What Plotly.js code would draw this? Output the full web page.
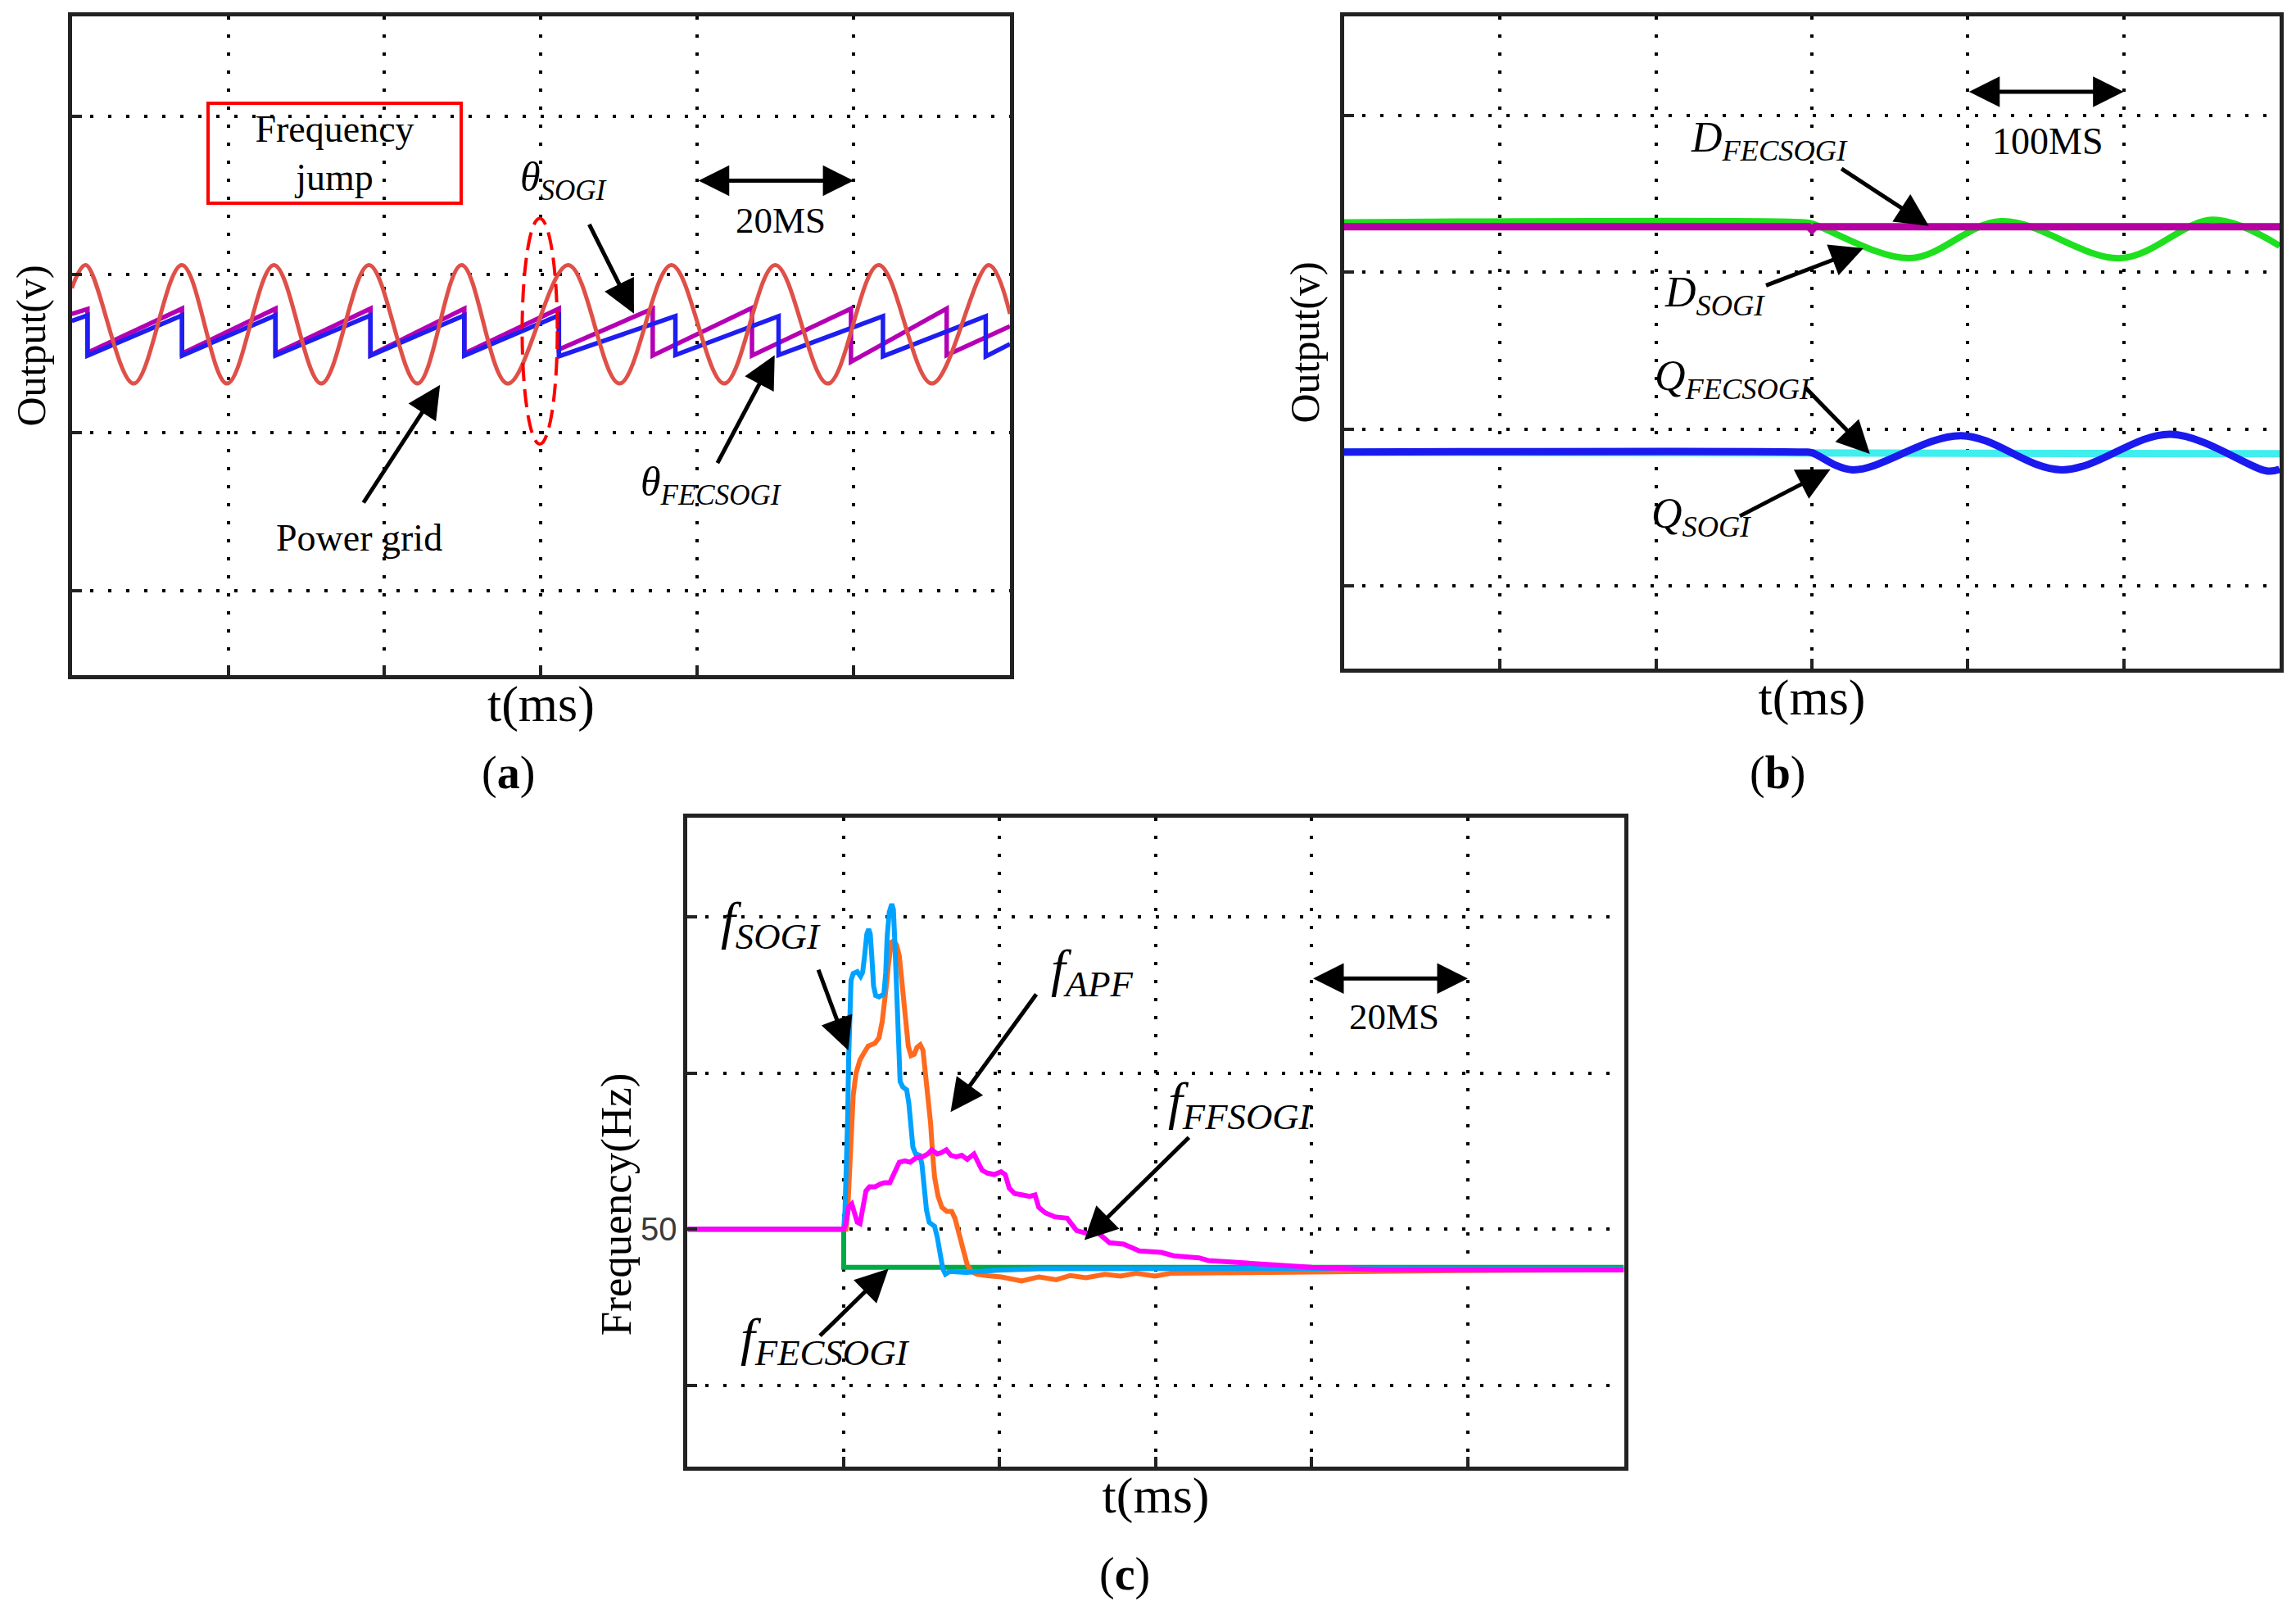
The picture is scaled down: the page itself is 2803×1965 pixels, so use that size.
<!DOCTYPE html>
<html>
<head>
<meta charset="utf-8">
<script src="https://cdn.plot.ly/plotly-3.0.1.min.js"></script>
<style>
html,body{margin:0;padding:0;background:#ffffff;}
#chart{width:2803px;height:1965px;}
</style>
</head>
<body>
<div id="chart"></div>
<script>
// ---------- Panel (a): phase outputs around a frequency jump (t in ms) ----------
const gridT = [0, 1.78, 7.9, 14.07, 19.85, 25.85, 31.9, 38.0, 44.2, 49.85, 55.75, 63.5, 70.05, 76.7, 83.45, 89.97, 96.7, 103.2, 110.0, 117.3, 120];
const gridV = [1.913, 2.06, 1.31, 2.06, 1.31, 2.06, 1.31, 2.06, 1.31, 2.06, 1.31, 2.06, 1.31, 2.06, 1.31, 2.06, 1.31, 2.06, 1.31, 2.06, 1.75];

const thetaSogiT = [0, 2.0, 2.0, 14.1, 14.1, 26.05, 26.05, 38.2, 38.2, 50.2, 50.2, 62.3, 62.3, 74.3, 74.3, 87.0, 87.0, 99.66, 99.66, 111.9, 111.9, 120];
const thetaSogiV = [1.75, 1.781, 1.505, 1.784, 1.50, 1.784, 1.50, 1.784, 1.49, 1.784, 1.50, 1.784, 1.525, 1.784, 1.487, 1.788, 1.487, 1.784, 1.447, 1.784, 1.49, 1.672];

const thetaFecT = [0, 2.0, 2.0, 14.1, 14.1, 26.05, 26.05, 38.2, 38.2, 50.2, 50.2, 62.3, 62.3, 77.2, 77.2, 90.4, 90.4, 103.75, 103.75, 116.9, 116.9, 120];
const thetaFecV = [1.706, 1.741, 1.487, 1.741, 1.487, 1.741, 1.487, 1.741, 1.487, 1.741, 1.487, 1.741, 1.482, 1.736, 1.49, 1.736, 1.49, 1.736, 1.482, 1.736, 1.482, 1.56];

// ---------- Panel (b): D / Q components (t in ms) ----------
const dFecT = [0, 298, 300, 302, 600];
const dFecV = [2.29, 2.29, 2.27, 2.29, 2.29];
const dSogiT = [0, 295, 300, 363, 421.4, 498.2, 557, 600];
const dSogiV = [2.318, 2.318, 2.31, 2.09, 2.325, 2.09, 2.334, 2.168];
const qFecT = [0, 300, 310, 600];
const qFecV = [0.854, 0.854, 0.843, 0.843];
const qSogiT = [0, 295, 300, 326, 395.7, 460.3, 530.2, 592.2, 600];
const qSogiV = [0.854, 0.854, 0.85, 0.741, 0.959, 0.741, 0.968, 0.733, 0.745];

// ---------- Panel (c): estimated frequency (t in ms, f in Hz) ----------
const fFecT = [0, 20, 20, 120];
const fFecV = [50, 50, 47.55, 47.55];

const fApfT = [0, 20.3, 20.52, 20.77, 20.97, 21.22, 21.57, 22.09, 22.61, 23.13, 24.0, 24.52, 24.94, 25.22, 25.5, 25.74, 25.91, 26.12, 26.43, 26.78, 27.13, 27.37, 27.65, 28.0, 28.28, 28.63, 29.04, 29.39, 29.81, 30.16, 30.43, 30.78, 31.13, 31.41, 31.65, 32.1, 32.59, 33.22, 33.84, 34.26, 34.78, 35.3, 35.83, 36.35, 37.04, 38.43, 40.2, 42.81, 45.03, 47.24, 49.05, 51.06, 53.47, 55.48, 57.49, 59.9, 61.91, 67.94, 75.98, 84.02, 98.8, 120];
const fApfV = [50, 50, 51.23, 53.85, 56.3, 58.58, 59.98, 60.86, 61.3, 61.73, 61.91, 62.26, 63.31, 64.36, 65.76, 66.99, 67.86, 68.39, 68.48, 68.21, 67.51, 66.11, 64.54, 62.96, 61.73, 61.12, 61.21, 61.65, 61.82, 61.47, 60.33, 58.76, 56.83, 54.73, 53.33, 52.1, 51.4, 51.14, 51.14, 50.7, 49.65, 48.6, 47.72, 47.29, 47.11, 47.02, 46.94, 46.68, 46.94, 46.76, 47.03, 46.89, 47.11, 46.99, 47.17, 46.99, 47.17, 47.2, 47.25, 47.29, 47.34, 47.4];

const fSogiT = [0, 20, 20.17, 20.35, 20.52, 20.63, 20.77, 20.94, 21.22, 21.74, 22.16, 22.43, 22.68, 22.96, 23.2, 23.41, 23.62, 23.83, 24.1, 24.52, 25.15, 25.39, 25.57, 25.84, 26.16, 26.37, 26.54, 26.78, 27.03, 27.23, 27.58, 28.07, 28.35, 28.63, 28.87, 29.22, 29.74, 30.02, 30.26, 30.61, 30.96, 31.65, 32.0, 32.35, 32.7, 33.04, 33.57, 35.65, 39.83, 45.04, 60, 80, 120];
const fSogiV = [50, 50, 51.23, 53.85, 57.36, 60.86, 64.36, 65.94, 66.38, 66.5, 66.2, 66.46, 67.51, 68.91, 69.23, 68.91, 67.34, 65.59, 64.97, 64.89, 65.06, 66.46, 68.74, 70.32, 70.84, 70.49, 68.56, 65.24, 62.26, 59.46, 59.11, 58.93, 58.06, 56.3, 55.25, 54.82, 54.73, 54.2, 52.98, 51.23, 50.44, 50.18, 49.47, 48.25, 47.46, 47.11, 47.29, 47.23, 47.37, 47.46, 47.48, 47.48, 47.45];

const fFfT = [0, 20, 20.28, 20.63, 21.04, 21.39, 21.74, 22.09, 22.43, 22.85, 23.3, 24.0, 24.7, 25.22, 25.91, 26.43, 27.13, 27.83, 28.52, 29.22, 30.09, 30.78, 31.3, 32.0, 32.52, 33.15, 33.74, 34.43, 35.13, 35.83, 36.7, 37.22, 37.74, 38.43, 39.3, 40.17, 40.7, 41.22, 41.91, 42.96, 43.83, 44.52, 45.0, 45.83, 47.04, 48.64, 49.85, 51.06, 52.66, 54.07, 55.88, 57.89, 60.7, 62.31, 65.53, 66.73, 69.95, 73.97, 80.0, 88.04, 98.8, 120];
const fFfV = [50, 50, 50.35, 51.4, 51.61, 51.05, 50.44, 50.35, 51.4, 52.45, 52.71, 52.71, 52.89, 52.98, 52.98, 53.5, 54.29, 54.38, 54.29, 54.55, 54.64, 54.82, 55.08, 54.82, 54.9, 55.08, 54.73, 54.64, 54.73, 54.47, 54.82, 54.29, 53.77, 53.59, 53.5, 53.68, 53.5, 52.63, 52.28, 52.19, 52.1, 52.19, 51.4, 51.05, 50.79, 50.7, 49.91, 49.74, 49.74, 49.13, 49.04, 48.6, 48.51, 48.29, 48.16, 47.99, 47.9, 47.73, 47.55, 47.41, 47.38, 47.38];

// y tick label of panel (c); other grid rows are unlabeled
const fTickVals = [50];
const fTickText = ['50'];

// ---------- styling ----------
const SERIF = 'Liberation Serif, Times New Roman, serif';
const axisBase = {
  showline: true, mirror: true, linecolor: '#222222', linewidth: 5,
  ticks: 'inside', ticklen: 12, tickwidth: 4, tickcolor: '#222222',
  showgrid: true, gridcolor: '#000000', gridwidth: 4, griddash: '4px,18px',
  zeroline: false, showticklabels: false, fixedrange: true
};
function ax(extra) { return Object.assign({}, axisBase, extra); }

const traces = [
  // (a)
  {x: thetaSogiT, y: thetaSogiV, xaxis: 'x', yaxis: 'y', mode: 'lines', name: 'θSOGI',
   line: {color: '#B400B4', width: 5.5}},
  {x: thetaFecT, y: thetaFecV, xaxis: 'x', yaxis: 'y', mode: 'lines', name: 'θFECSOGI',
   line: {color: '#1E1EF0', width: 5.5}},
  {x: gridT, y: gridV, xaxis: 'x', yaxis: 'y', mode: 'lines', name: 'Power grid',
   line: {color: '#DE5048', width: 5, shape: 'spline', smoothing: 1}},
  // (b)
  {x: qFecT, y: qFecV, xaxis: 'x2', yaxis: 'y2', mode: 'lines', name: 'QFECSOGI',
   line: {color: '#40EEEE', width: 9}},
  {x: qSogiT, y: qSogiV, xaxis: 'x2', yaxis: 'y2', mode: 'lines', name: 'QSOGI',
   line: {color: '#1A1AEE', width: 9, shape: 'spline', smoothing: 1}},
  {x: dSogiT, y: dSogiV, xaxis: 'x2', yaxis: 'y2', mode: 'lines', name: 'DSOGI',
   line: {color: '#1EE01E', width: 8, shape: 'spline', smoothing: 1}},
  {x: dFecT, y: dFecV, xaxis: 'x2', yaxis: 'y2', mode: 'lines', name: 'DFECSOGI',
   line: {color: '#B400A0', width: 9}},
  // (c)
  {x: fFecT, y: fFecV, xaxis: 'x3', yaxis: 'y3', mode: 'lines', name: 'fFECSOGI',
   line: {color: '#00AA44', width: 6}},
  {x: fApfT, y: fApfV, xaxis: 'x3', yaxis: 'y3', mode: 'lines', name: 'fAPF',
   line: {color: '#FF6A1E', width: 6}},
  {x: fSogiT, y: fSogiV, xaxis: 'x3', yaxis: 'y3', mode: 'lines', name: 'fSOGI',
   line: {color: '#00A2FF', width: 6}},
  {x: fFfT, y: fFfV, xaxis: 'x3', yaxis: 'y3', mode: 'lines', name: 'fFFSOGI',
   line: {color: '#FF00FF', width: 6}}
];

function label(xr, yr, x, y, text, size, anchor) {
  return {xref: xr, yref: yr, x: x, y: y, text: text, showarrow: false,
          xanchor: anchor || 'left', yanchor: 'middle',
          font: {family: SERIF, size: size, color: '#000000'}};
}
function arrow(xr, yr, x, y, axv, ayv) {
  return {xref: xr, yref: yr, axref: xr, ayref: yr, x: x, y: y, ax: axv, ay: ayv,
          text: '', showarrow: true, arrowhead: 2, arrowsize: 1.6, arrowwidth: 5,
          arrowcolor: '#000000', standoff: 0};
}
function dblArrow(xr, yr, x0, x1, y) {
  return {xref: xr, yref: yr, axref: xr, ayref: yr, x: x1, y: y, ax: x0, ay: y,
          text: '', showarrow: true, arrowhead: 2, startarrowhead: 2,
          arrowside: 'end+start', arrowsize: 1.5, startarrowsize: 1.5, arrowwidth: 5,
          arrowcolor: '#000000', standoff: 0, startstandoff: 0};
}

const annotations = [
  // (a)
  {xref: 'x', yref: 'y', x: 33.6, y: 2.767, text: 'Frequency<br>jump', showarrow: false,
   font: {family: SERIF, size: 46, color: '#000000'}, bordercolor: '#FF0000', borderwidth: 4,
   borderpad: 0, width: 305, height: 118, align: 'center', valign: 'middle',
   xanchor: 'center', yanchor: 'middle'},
  label('x', 'y', 57.1, 2.596, '<i>θ</i><sub><i>SOGI</i></sub>', 50),
  arrow('x', 'y', 71.9, 1.753, 66.1, 2.324),
  dblArrow('x', 'y', 80, 100, 2.593),
  label('x', 'y', 90.7, 2.344, '20MS', 45, 'center'),
  label('x', 'y', 36.75, 0.332, 'Power grid', 46, 'center'),
  arrow('x', 'y', 47.1, 1.301, 37.2, 0.549),
  label('x', 'y', 72.5, 0.668, '<i>θ</i><sub><i>FECSOGI</i></sub>', 50),
  arrow('x', 'y', 89.9, 1.49, 82.5, 0.80),
  // (b)
  label('x2', 'y2', 221.2, 2.84, '<i>D</i><sub><i>FECSOGI</i></sub>', 52),
  arrow('x2', 'y2', 375, 2.296, 318.2, 2.665),
  label('x2', 'y2', 204.4, 1.853, '<i>D</i><sub><i>SOGI</i></sub>', 52),
  arrow('x2', 'y2', 333, 2.153, 269.8, 1.913),
  label('x2', 'y2', 198.1, 1.32, '<i>Q</i><sub><i>FECSOGI</i></sub>', 52),
  arrow('x2', 'y2', 337.2, 0.842, 295, 1.273),
  label('x2', 'y2', 196, 0.443, '<i>Q</i><sub><i>SOGI</i></sub>', 52),
  arrow('x2', 'y2', 311.9, 0.745, 253, 0.442),
  dblArrow('x2', 'y2', 400, 500, 3.15),
  label('x2', 'y2', 450.9, 2.834, '100MS', 46, 'center'),
  // (c)
  label('x3', 'y3', 4.0, 69.55, '<i>f</i><sub><i>SOGI</i></sub>', 64),
  arrow('x3', 'y3', 20.58, 61.46, 16.7, 66.7),
  label('x3', 'y3', 46.4, 66.5, '<i>f</i><sub><i>APF</i></sub>', 64),
  arrow('x3', 'y3', 33.7, 57.5, 44.8, 65.13),
  label('x3', 'y3', 61.4, 58.0, '<i>f</i><sub><i>FFSOGI</i></sub>', 64),
  arrow('x3', 'y3', 50.85, 49.3, 64.4, 55.95),
  label('x3', 'y3', 6.6, 42.86, '<i>f</i><sub><i>FECSOGI</i></sub>', 64),
  arrow('x3', 'y3', 25.74, 47.46, 16.8, 43.09),
  dblArrow('x3', 'y3', 80, 100, 66.06),
  label('x3', 'y3', 90.5, 63.6, '20MS', 45, 'center'),
  {xref: 'paper', yref: 'paper', x: 0.2684, y: 0.2519, text: 'Frequency(Hz)', textangle: -90,
   showarrow: false, xanchor: 'center', yanchor: 'middle',
   font: {family: SERIF, size: 53, color: '#000000'}},
  // panel captions
  {xref: 'paper', yref: 'paper', x: 0.2215, y: 0.5196, text: '(<b>a</b>)', showarrow: false,
   xanchor: 'center', yanchor: 'middle', font: {family: SERIF, size: 56, color: '#000000'}},
  {xref: 'paper', yref: 'paper', x: 0.7742, y: 0.5196, text: '(<b>b</b>)', showarrow: false,
   xanchor: 'center', yanchor: 'middle', font: {family: SERIF, size: 56, color: '#000000'}},
  {xref: 'paper', yref: 'paper', x: 0.4898, y: 0.0219, text: '(<b>c</b>)', showarrow: false,
   xanchor: 'center', yanchor: 'middle', font: {family: SERIF, size: 56, color: '#000000'}}
];

const shapes = [
  {type: 'circle', xref: 'x', yref: 'y', x0: 57.6, x1: 62.1, y0: 0.927, y1: 2.355,
   line: {color: '#FF0000', width: 4, dash: '22px,10px'}}
];

const titleFontX = {family: SERIF, size: 62, color: '#000000'};
const titleFontY = {family: SERIF, size: 50, color: '#000000'};
const minorGrid = {dtick: 10, tick0: 0, showgrid: true, gridcolor: '#000000', gridwidth: 4,
                   griddash: '4px,18px', ticks: 'inside', ticklen: 12, tickwidth: 4, tickcolor: '#222222'};

const layout = {
  width: 2803, height: 1965,
  margin: {l: 0, r: 0, t: 0, b: 0},
  paper_bgcolor: '#ffffff', plot_bgcolor: '#ffffff',
  showlegend: false,
  xaxis: ax({domain: [0.03129, 0.43989], range: [0, 120], tick0: 0, dtick: 20, anchor: 'y',
             title: {text: 't(ms)', font: titleFontX, standoff: 10}}),
  yaxis: ax({domain: [0.58066, 0.98982], range: [-0.534, 3.632], tick0: 0, dtick: 1, anchor: 'x',
             title: {text: 'Output(v)', font: titleFontY, standoff: 13}}),
  xaxis2: ax({domain: [0.58544, 0.99287], range: [0, 600], tick0: 0, dtick: 100, anchor: 'y2',
              title: {text: 't(ms)', font: titleFontX, standoff: 10}}),
  yaxis2: ax({domain: [0.58473, 0.98982], range: [-0.526, 3.631], tick0: 0, dtick: 1, anchor: 'x2',
              title: {text: 'Output(v)', font: titleFontY, standoff: 11}}),
  xaxis3: ax({domain: [0.29950, 0.70728], range: [0, 120], tick0: 0, dtick: 20, anchor: 'y3',
              title: {text: 't(ms)', font: titleFontX, standoff: 10}}),
  yaxis3: ax({domain: [0.08906, 0.49211], range: [34.78, 76.37], tickmode: 'array',
              tickvals: fTickVals, ticktext: fTickText, showticklabels: true, anchor: 'x3',
              minor: minorGrid,
              tickfont: {family: 'Liberation Sans, Arial, sans-serif', size: 40, color: '#3a3a3a'}}),
  annotations: annotations,
  shapes: shapes
};

Plotly.newPlot('chart', traces, layout, {staticPlot: true, displayModeBar: false});
</script>
</body>
</html>
